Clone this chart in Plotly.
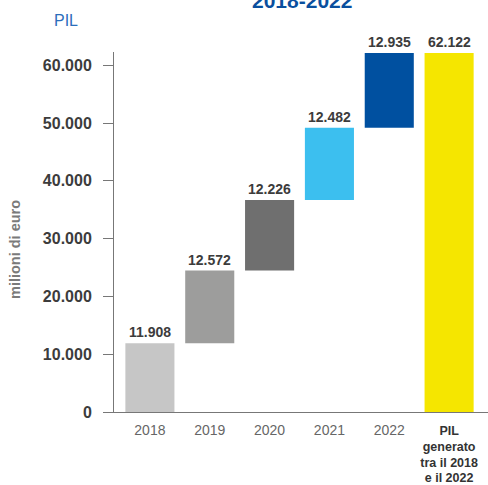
import plotly.graph_objects as go

categories = ["2018", "2019", "2020", "2021", "2022", "PIL generato tra il 2018 e il 2022"]
increments = [11908, 12572, 12226, 12482, 12935]
total = 62122
value_labels = ["11.908", "12.572", "12.226", "12.482", "12.935", "62.122"]
bar_colors = ["#c6c6c6", "#9d9d9c", "#6f6f6f", "#3cbfef", "#0050a0", "#f5e600"]
y_tickvals = [0, 10000, 20000, 30000, 40000, 50000, 60000]
y_ticktext = ["0", "10.000", "20.000", "30.000", "40.000", "50.000", "60.000"]

# cumulative bases
bases = []
acc = 0
for v in increments:
    bases.append(acc)
    acc += v
values = increments + [total]
bases = bases + [0]
tops = [b + v for b, v in zip(bases, values)]

xs = list(range(len(categories)))

last_lines = ["PIL", "generato", "tra il 2018", "e il 2022"]
last_label = "<br>".join(
    f"<span style='color:#333333;font-size:12.5px'><b>{l}</b></span>" for l in last_lines
)
x_ticktext = [f"<span style='font-size:14px'>{c}</span>" for c in categories[:5]] + [last_label]

fig = go.Figure()
fig.add_trace(go.Bar(
    x=xs, y=values, base=bases,
    marker=dict(color=bar_colors, line=dict(width=0)),
    width=0.82,
    hoverinfo="skip",
))

font_family = "Liberation Sans, Arial, sans-serif"

for x, t, lab in zip(xs, tops, value_labels):
    fig.add_annotation(
        x=x, y=t, xref="x", yref="y", text=f"<b>{lab}</b>",
        showarrow=False, yanchor="bottom", yshift=1,
        font=dict(family=font_family, size=14, color="#3c3c3c"),
    )

Y_MAX = 62300
L, T, B = 114, 52, 73
H = 485
ph = H - T - B
pw = 488 - L

def py(pix):
    return 1 + (T - pix) / ph

def px(pix):
    return (pix - L) / pw

fig.add_annotation(
    x=px(301.5), y=py(14), xref="paper", yref="paper",
    text="<b>2018-2022</b>", showarrow=False, yanchor="bottom", xanchor="center",
    font=dict(family=font_family, size=21, color="#0a4f9e"),
)
fig.add_annotation(
    x=px(66), y=py(20), xref="paper", yref="paper",
    text="PIL", showarrow=False, yanchor="middle", xanchor="center",
    font=dict(family=font_family, size=16, color="#2a6ebb"),
)
fig.add_annotation(
    x=px(15), y=py(250), xref="paper", yref="paper",
    text="<b>milioni di euro</b>", showarrow=False, textangle=-90,
    yanchor="middle", xanchor="center",
    font=dict(family=font_family, size=14.5, color="#7a7a7a"),
)

fig.update_layout(
    width=488, height=485,
    margin=dict(l=L, r=0, t=T, b=B),
    paper_bgcolor="white", plot_bgcolor="white",
    showlegend=False,
    font=dict(family=font_family),
)
fig.update_xaxes(
    range=[-0.6, 5.65],
    tickvals=xs, ticktext=x_ticktext,
    showline=True, linecolor="#777777", linewidth=1,
    ticks="", showgrid=False, zeroline=False,
    tickfont=dict(family=font_family, size=12, color="#666666"),
    ticklabelstandoff=8,
    automargin=False,
    fixedrange=True,
)
fig.update_yaxes(
    range=[0, Y_MAX],
    tickvals=y_tickvals, ticktext=[f"<b>{t}</b>" for t in y_ticktext],
    showline=True, linecolor="#777777", linewidth=1,
    ticks="outside", ticklen=10, tickcolor="#777777", tickwidth=1,
    showgrid=False, zeroline=False,
    tickfont=dict(family=font_family, size=16, color="#3c3c3c"),
    ticklabelstandoff=8,
    automargin=False,
    fixedrange=True,
)

fig.write_html(
    "out.html",
    config={"displayModeBar": False},
    post_script="document.body.style.margin='0';document.body.style.overflow='hidden';",
)
